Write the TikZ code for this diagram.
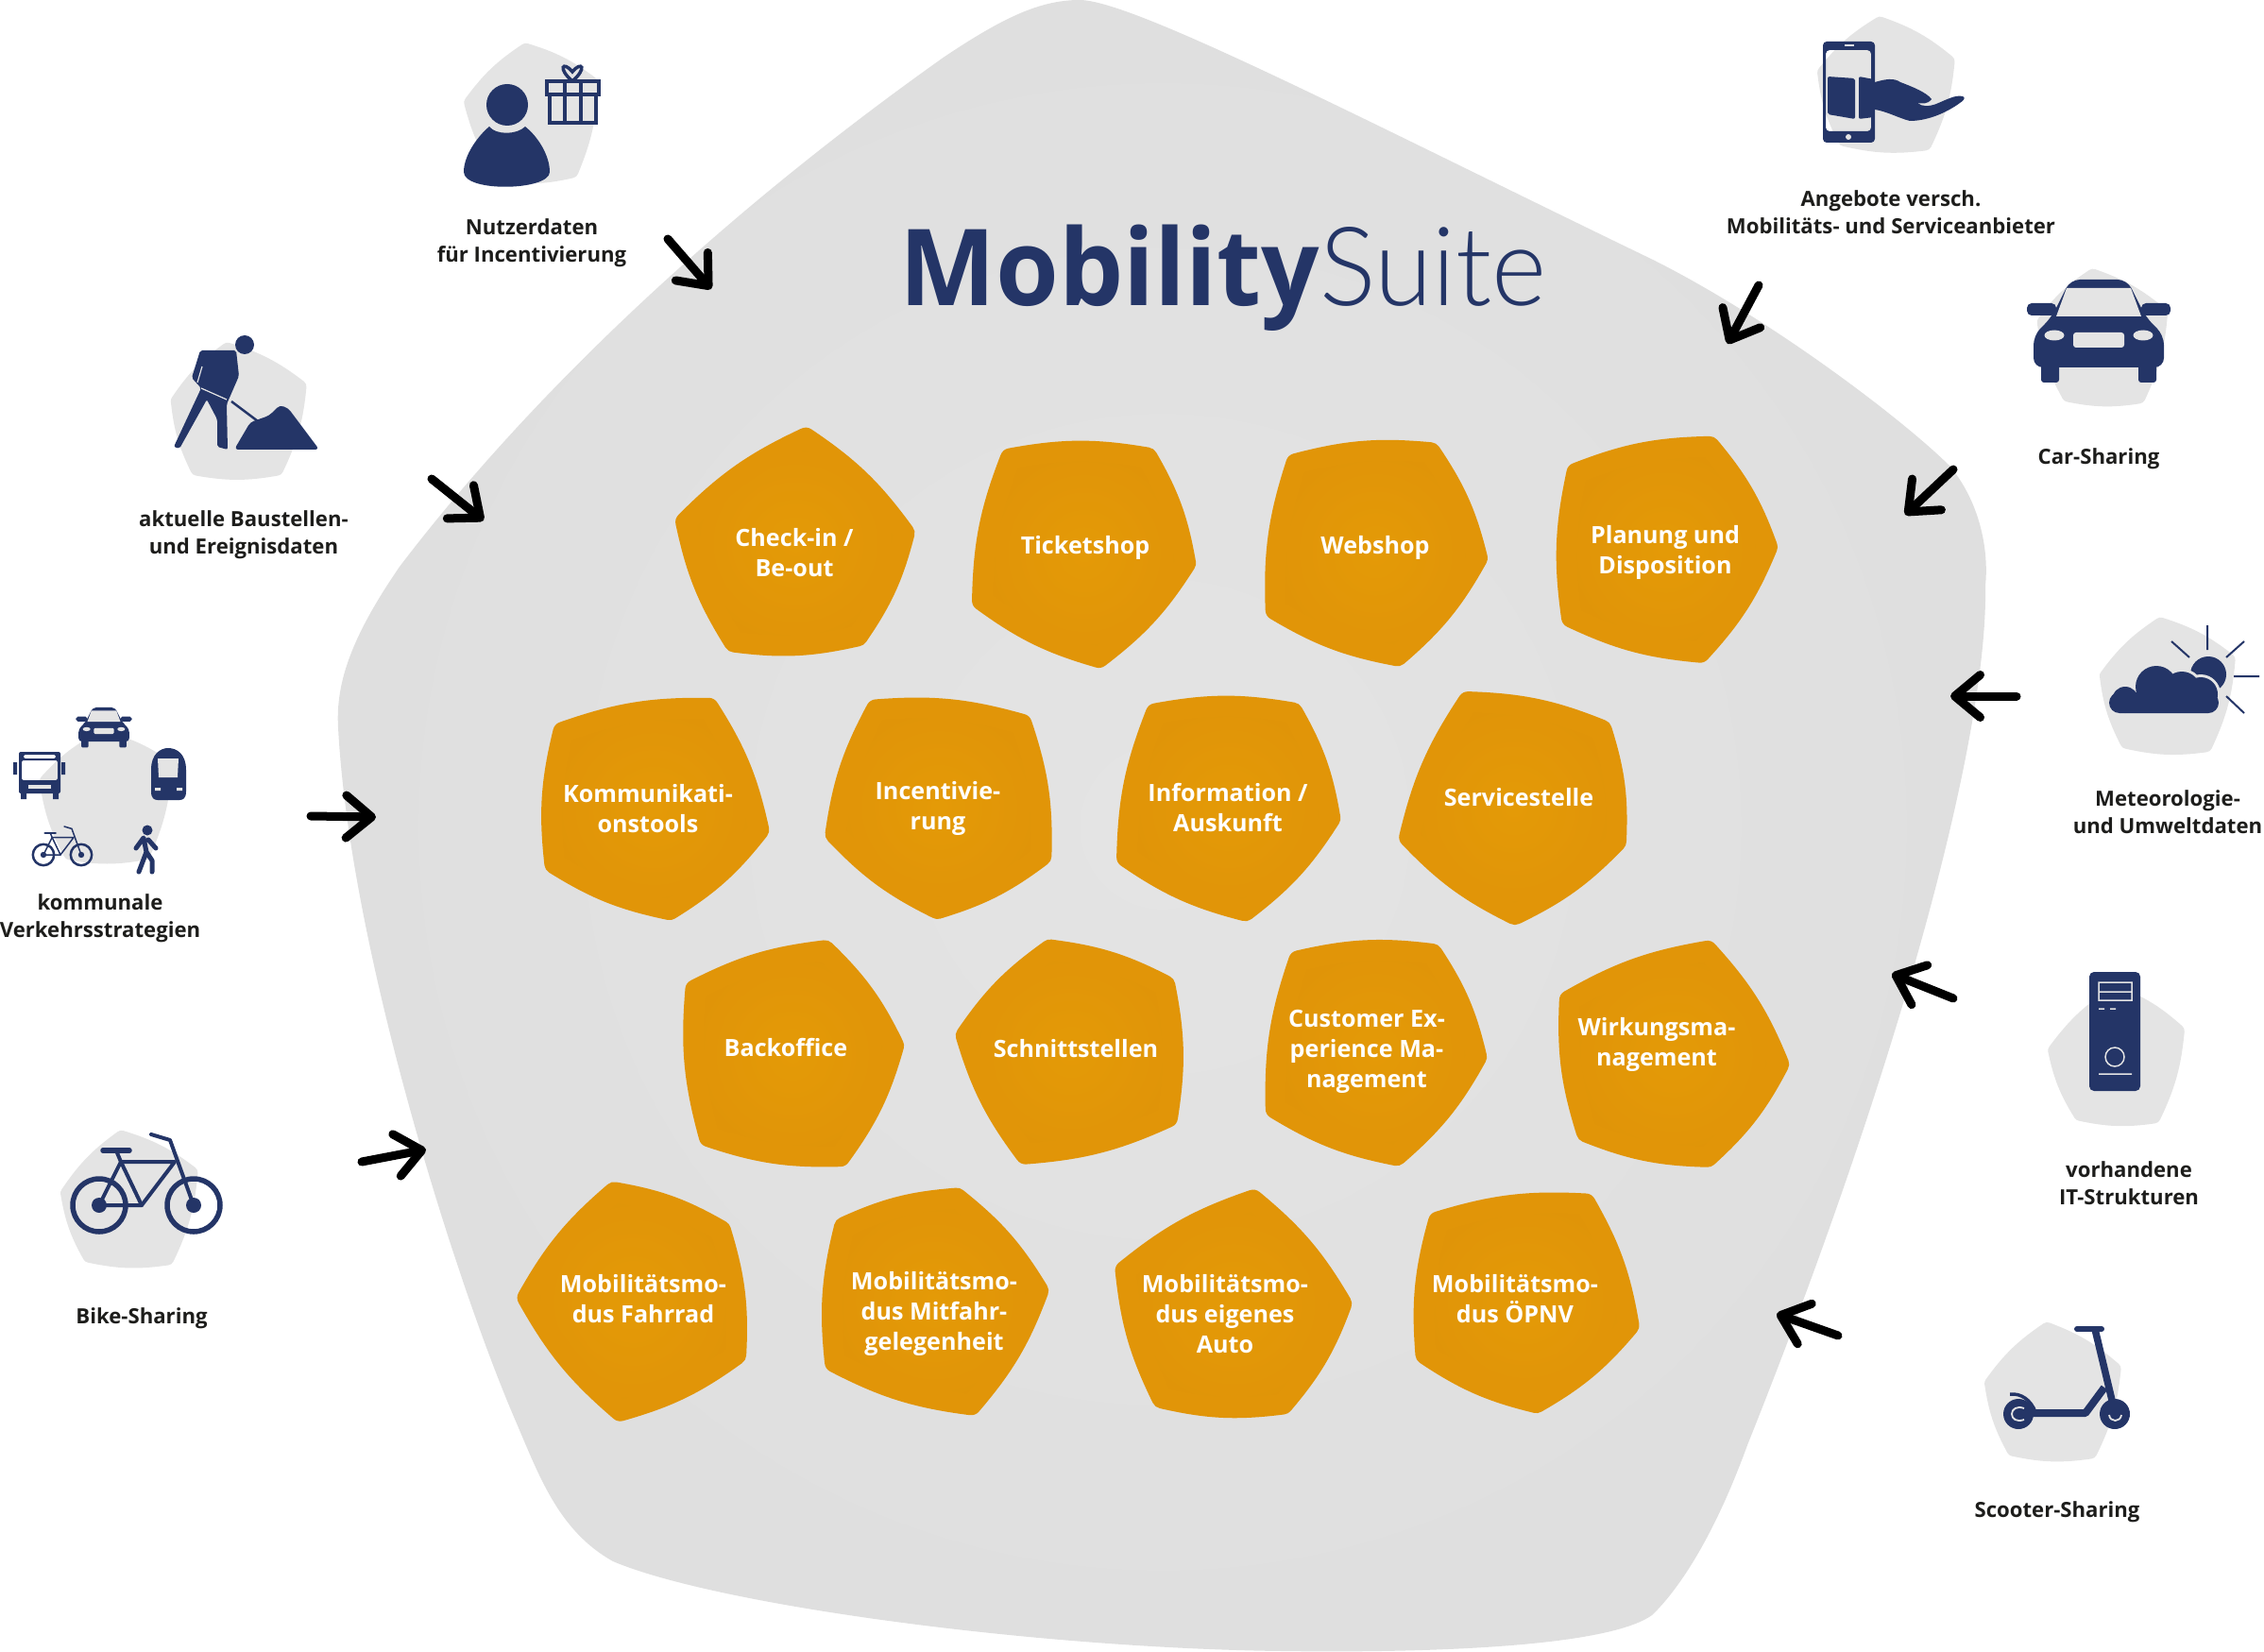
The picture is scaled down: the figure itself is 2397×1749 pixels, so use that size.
\documentclass[tikz,border=0pt]{standalone}
\usepackage{fontspec}
\setmainfont{Open Sans}
\newfontfamily\suitefont{Lato Light}
\usetikzlibrary{calc,arrows.meta}
\definecolor{navy}{HTML}{243567}
\definecolor{shapegrey}{HTML}{E4E4E4}
\definecolor{shapeedge}{HTML}{DFDFDF}
\definecolor{orangein}{HTML}{E49A07}
\definecolor{orangeout}{HTML}{E09408}
\definecolor{orangerim}{HTML}{E19508}
\definecolor{labelblack}{HTML}{1D1D1B}

% name, text position, text, five corners clockwise
\newcommand{\orangeblob}[8]{
	\coordinate (#1a) at #4;
	\coordinate (#1b) at #5;
	\coordinate (#1c) at #6;
	\coordinate (#1d) at #7;
	\coordinate (#1e) at #8;
	\coordinate (#1m) at (barycentric cs:#1a=1,#1b=1,#1c=1,#1d=1,#1e=1);
	\shadedraw[orangeshape] ($(#1m)!.9!(#1a)$) to[bend left=10] ($(#1m)!.9!(#1b)$) to[bend left=10] ($(#1m)!.9!(#1c)$) to[bend left=10] ($(#1m)!.9!(#1d)$) to[bend left=10] ($(#1m)!.9!(#1e)$) to[bend left=10] ($(#1m)!.9!(#1a)$) -- cycle;
	\node[blobtext] (#1) at #2 {\parbox{4cm}{\centering #3}};
}
\newcommand{\greyblob}[6]{
	\coordinate (#1a) at #2;
	\coordinate (#1b) at #3;
	\coordinate (#1c) at #4;
	\coordinate (#1d) at #5;
	\coordinate (#1e) at #6;
	\coordinate (#1m) at (barycentric cs:#1a=1,#1b=1,#1c=1,#1d=1,#1e=1);
	\draw[greyshape] ($(#1m)!.9!(#1a)$) to[bend left=10] ($(#1m)!.9!(#1b)$) to[bend left=10] ($(#1m)!.9!(#1c)$) to[bend left=10] ($(#1m)!.9!(#1d)$) to[bend left=10] ($(#1m)!.9!(#1e)$) to[bend left=10] ($(#1m)!.9!(#1a)$) -- cycle;
}
\newcommand{\caricon}[3]{
	\begin{scope}[shift={(#1,#2)},scale=#3]
		\fill[navy,rounded corners=#3*0.1cm] (-30,-54) -- (30,-54) -- (50,-14) -- (69,5) -- (69,39) -- (-69,39) -- (-69,5) -- (-50,-14) -- cycle;
		\fill[navy,rounded corners=#3*0.03cm] (-61,30) rectangle (-42,55);
		\fill[navy,rounded corners=#3*0.03cm] (42,30) rectangle (61,55);
		\fill[navy,rounded corners=#3*0.05cm] (-76,-29) rectangle (-45,-16);
		\fill[navy,rounded corners=#3*0.05cm] (45,-29) rectangle (76,-16);
		\fill[shapegrey] (-34,-45) -- (34,-45) -- (45,-15) -- (-45,-15) -- cycle;
		\fill[shapegrey] (-47,5) ellipse (10.5 and 5.5);
		\fill[shapegrey] (47,5) ellipse (10.5 and 5.5);
		\fill[shapegrey,rounded corners=#3*0.03cm] (-27,2) rectangle (27,18);
	\end{scope}
}
\newcommand{\bikeicon}[5]{
	\begin{scope}[shift={(#1,#2)},scale=#3,navy,line cap=round,line join=round]
		\draw[line width=#4] (-50,0) circle (28);
		\draw[line width=#4] (50,0) circle (28);
		\fill (-50,0) circle (8);
		\fill (50,0) circle (8);
		\draw[line width=#5] (-50,0) -- (-27,-46) -- (30,-46) -- (-5,0) -- cycle;
		\draw[line width=#5] (-27,-46) -- (-5,0);
		\draw[line width=#5] (-27,-46) -- (-32,-58);
		\draw[line width=#4] (-46,-58) -- (-18,-58);
		\draw[line width=#5] (50,0) -- (25,-69) -- (5,-75);
	\end{scope}
}

\begin{document}
\begin{tikzpicture}[x=0.01cm,y=-0.01cm]
\tikzstyle{orangeshape}=[inner color=orangein,outer color=orangeout,draw=orangerim,line width=0.22cm,line join=round]
\tikzstyle{greyshape}=[fill=shapegrey,draw=shapegrey,line width=0.14cm,line join=round]
\tikzstyle{blobtext}=[white,inner sep=0pt,font=\bfseries\fontsize{7.15}{9.1}\selectfont]
\tikzstyle{sidetext}=[labelblack,inner sep=0pt,font=\bfseries\fontsize{6.3}{8.2}\selectfont]
\tikzstyle{inarrow}=[line width=0.09cm,line cap=round,-{Straight Barb[length=0.27cm,width=0.45cm,round]}]
\useasboundingbox (0,0) rectangle (2397,1749);

\shade[inner color=shapegrey,outer color=shapeedge] (1143,0) .. controls (1200,0) and (1450,130) .. (1750,275) .. controls (1870,335) and (2010,440) .. (2064,493) .. controls (2095,530) and (2106,580) .. (2102,620) .. controls (2105,780) and (2010,1130) .. (1850,1530) .. controls (1810,1640) and (1770,1690) .. (1749,1710) .. controls (1700,1745) and (1500,1750) .. (1357,1748) .. controls (1100,1745) and (760,1700) .. (649,1653) .. controls (590,1620) and (570,1560) .. (544,1500) .. controls (480,1350) and (370,1000) .. (358,770) .. controls (355,720) and (375,670) .. (423,600) .. controls (560,420) and (760,230) .. (1000,60) .. controls (1060,20) and (1100,0) .. (1143,0) -- cycle;

\node[navy,inner sep=0pt,anchor=base west,xscale=0.96,transform shape] (title) at (952,324) {\fontsize{32}{36}\selectfont\bfseries Mobility\suitefont\mdseries\fontsize{33}{36}\selectfont Suite};

% inner modules
\orangeblob{checkin}{(841,585)}{Check-in /\\ Be-out}{(854,450)}{(970,562)}{(915,683)}{(770,690)}{(713,549)}
\orangeblob{ticketshop}{(1149,580)}{Ticketshop}{(1061,475)}{(1222,474)}{(1267,598)}{(1165,709)}{(1028,642)}
\orangeblob{webshop}{(1456,580)}{Webshop}{(1363,481)}{(1521,468)}{(1576,592)}{(1482,707)}{(1339,653)}
\orangeblob{planung}{(1763,585)}{Planung und\\ Disposition}{(1659,492)}{(1815,461)}{(1883,579)}{(1804,703)}{(1653,662)}
\orangeblob{kommunikation}{(686,856)}{Kommunikati-\\ onstools}{(586,766)}{(757,738)}{(816,881)}{(711,975)}{(576,921)}
\orangeblob{incentivierung}{(993,856)}{Incentivie-\\ rung}{(920,740)}{(1091,757)}{(1114,912)}{(992,974)}{(872,886)}
\orangeblob{information}{(1300,855)}{Information /\\ Auskunft}{(1215,745)}{(1376,744)}{(1420,868)}{(1320,977)}{(1181,914)}
\orangeblob{service}{(1608,844)}{Servicestelle}{(1548,731)}{(1705,764)}{(1722,895)}{(1603,981)}{(1479,890)}
\orangeblob{backoffice}{(832,1109)}{Backoffice}{(725,1040)}{(877,994)}{(958,1106)}{(895,1236)}{(741,1213)}
\orangeblob{schnittstellen}{(1139,1110)}{Schnittstellen}{(1109,994)}{(1244,1036)}{(1247,1191)}{(1080,1234)}{(1010,1095)}
\orangeblob{customer}{(1447,1113)}{Customer Ex-\\ perience Ma-\\ nagement}{(1366,1007)}{(1523,999)}{(1575,1120)}{(1481,1236)}{(1339,1181)}
\orangeblob{wirkung}{(1754,1106)}{Wirkungsma-\\ nagement}{(1650,1052)}{(1812,994)}{(1896,1127)}{(1812,1236)}{(1670,1207)}
\orangeblob{fahrrad}{(681,1375)}{Mobilitätsmo-\\ dus Fahrrad}{(647,1250)}{(772,1295)}{(790,1441)}{(654,1507)}{(545,1374)}
\orangeblob{mitfahr}{(989,1391)}{Mobilitätsmo-\\ dus Mitfahr-\\ gelegenheit}{(884,1291)}{(1016,1257)}{(1112,1366)}{(1033,1500)}{(873,1450)}
\orangeblob{auto}{(1297,1391)}{Mobilitätsmo-\\ dus eigenes\\ Auto}{(1329,1257)}{(1433,1379)}{(1364,1497)}{(1222,1490)}{(1179,1340)}
\orangeblob{oepnv}{(1604,1375)}{Mobilitätsmo-\\ dus ÖPNV}{(1513,1284)}{(1686,1263)}{(1737,1406)}{(1628,1497)}{(1498,1440)}

% outer sources
\greyblob{nutzerbg}{(556,45)}{(633,84)}{(610,188)}{(530,192)}{(491,107)}
\fill[navy] (537,111) circle (22);
\fill[navy] (518,134) .. controls (525,143) and (547,143) .. (556,134) .. controls (570,145) and (582,165) .. (582,182) .. controls (582,202) and (491,204) .. (491,182) .. controls (491,165) and (505,145) .. (518,134) -- cycle;
\draw[navy,line width=0.035cm] (582,100) rectangle (631,130) (579,86) rectangle (634,100) (598,86) -- (598,130) (615,86) -- (615,130);
\draw[navy,line width=0.035cm] (606,86) .. controls (590,72) and (596,64) .. (606,76) .. controls (616,64) and (622,72) .. (606,86);
\node[sidetext] (nutzer) at (563,257) {\parbox{4cm}{\centering Nutzerdaten\\ für Incentivierung}};

\greyblob{baubg}{(240,362)}{(325,406)}{(298,503)}{(204,503)}{(181,423)}
\fill[navy] (259,365) circle (10);
\fill[navy,rounded corners=0.02cm] (212,371) -- (250,371) -- (253,398) -- (240,428) -- (241,476) -- (230,473) -- (230,444) -- (219,423) -- (190,475) -- (184,473) -- (213,411) -- (203,400) -- cycle;
\draw[shapegrey,line width=0.012cm] (209,405) -- (214,388) (213,411) -- (240,423);
\draw[navy,line width=0.025cm] (245,425) -- (273,446);
\fill[navy,rounded corners=0.04cm] (248,476) -- (265,447) -- (285,440) -- (296,429) -- (305,432) -- (338,476) -- cycle;
\node[sidetext] (baustellen) at (258,566) {\parbox{4cm}{\centering aktuelle Baustellen-\\ und Ereignisdaten}};

\greyblob{angebotbg}{(1990,17)}{(2070,62)}{(2043,159)}{(1948,154)}{(1924,75)}
\fill[navy,even odd rule,rounded corners=0.04cm] (1930,44) rectangle (1985,151) (1933,53) rectangle (1981,139);
\fill[shapegrey] (1957,145) circle (3);
\fill[shapegrey] (1953,47.5) rectangle (1963,49);
\fill[navy,rounded corners=0.02cm] (1935,81) -- (1964,83) -- (1964,126) -- (1935,121) -- cycle;
\fill[navy,rounded corners=0.02cm] (1968,81) -- (1984,84) -- (1984,124) -- (1968,126) -- cycle;
\fill[navy] (1985,87) .. controls (1995,84) and (2005,82) .. (2012,87) .. controls (2025,92) and (2040,98) .. (2045,105) .. controls (2042,110) and (2035,110) .. (2030,109) .. controls (2035,113) and (2042,113) .. (2050,110) .. controls (2060,106) and (2070,100) .. (2078,102) .. controls (2082,104) and (2078,107) .. (2075,109) .. controls (2060,120) and (2040,128) .. (2022,128) .. controls (2010,125) and (1998,118) .. (1985,116) -- cycle;
\node[sidetext] (angebote) at (2002,225) {\parbox{6cm}{\centering Angebote versch.\\ Mobilitäts- und Serviceanbieter}};

\greyblob{carbg}{(2215,284)}{(2295,329)}{(2269,427)}{(2186,425)}{(2157,339)}
\caricon{2222}{350}{1}
\node[sidetext] (carsharing) at (2222,486) {Car-Sharing};

\greyblob{wetterbg}{(2287,653)}{(2367,695)}{(2340,796)}{(2247,792)}{(2223,714)}
\fill[navy] (2338,714) circle (19);
\draw[navy,line width=0.02cm] (2299,679) -- (2318,696) (2337,662) -- (2337,688) (2357,696) -- (2376,679) (2365,716) -- (2392,716) (2357,737) -- (2376,755);
\fill[shapegrey] (2310,731) circle (23) (2330,735) circle (21);
\fill[navy,rounded corners=0.11cm] (2233,733) rectangle (2349,755);
\fill[navy] (2283,727) circle (22) (2310,731) circle (20) (2330,735) circle (18) (2250,741) circle (14);
\node[sidetext] (wetter) at (2295,860) {\parbox{5cm}{\centering Meteorologie-\\ und Umweltdaten}};

\greyblob{itbg}{(2240,1043)}{(2313,1088)}{(2285,1189)}{(2198,1186)}{(2168,1111)}
\fill[navy,rounded corners=0.05cm] (2212,1029) rectangle (2266,1155);
\draw[shapegrey,line width=0.015cm] (2222,1040) rectangle (2257,1059) (2222,1050) -- (2257,1050) (2222,1068) -- (2228,1068) (2234,1068) -- (2240,1068) (2222,1137) -- (2257,1137) (2239,1119) circle (10);
\node[sidetext] (itstruktur) at (2254,1253) {\parbox{4cm}{\centering vorhandene\\ IT-Strukturen}};

\greyblob{scooterbg}{(2167,1399)}{(2246,1446)}{(2218,1544)}{(2127,1541)}{(2101,1463)}
\draw[navy,line width=0.06cm,line cap=round] (2199,1407) -- (2225,1407);
\draw[navy,line width=0.075cm] (2218,1407) -- (2239,1495);
\draw[navy,line width=0.08cm,line join=round] (2228,1469) -- (2208,1496) -- (2140,1496);
\fill[navy] (2137,1497) circle (16) (2239,1497) circle (16);
\draw[navy,line width=0.035cm] (2128,1476) .. controls (2140,1475) and (2150,1482) .. (2155,1495);
\draw[shapegrey,line width=0.018cm] (2143,1491) .. controls (2135,1488) and (2130,1492) .. (2130,1497) .. controls (2130,1502) and (2135,1506) .. (2143,1503) (2233,1498) .. controls (2234,1506) and (2245,1506) .. (2246,1498);
\node[sidetext] (scooter) at (2178,1601) {Scooter-Sharing};

\greyblob{kommunalbg}{(108,774)}{(182,807)}{(157,910)}{(70,910)}{(42,825)}
\caricon{110}{770}{0.39}
\fill[navy,even odd rule,rounded corners=0.02cm] (20,796) rectangle (64,840) (23,805) rectangle (61,826) (25,799) rectangle (59,803);
\fill[navy] (22,838) rectangle (28,846) (56,838) rectangle (62,846) (14,807) rectangle (18,820) (65,807) rectangle (69,820);
\fill[shapegrey] (30,831) rectangle (54,835);
\fill[navy] (160,838) -- (160,815) .. controls (160,798) and (170,792) .. (178,792) .. controls (187,792) and (197,798) .. (197,815) -- (197,838) .. controls (197,845) and (194,847) .. (190,847) -- (167,847) .. controls (163,847) and (160,845) .. (160,838) -- cycle;
\fill[shapegrey] (167,803) -- (189,803) -- (188,823) -- (168,823) -- cycle;
\fill[shapegrey] (164,834) rectangle (170,837) (187,834) rectangle (193,837);
\bikeicon{66}{905}{0.4}{0.025cm}{0.015cm}
\fill[navy] (156,879) circle (5.5);
\draw[navy,line width=0.05cm,line cap=round,line join=round] (144,898) -- (152,887) -- (155,902) -- (147,923) (157,889) -- (165,898) (155,902) -- (161,911) -- (161,923);
\node[sidetext] (kommunal) at (106,972) {\parbox{4cm}{\centering kommunale\\ Verkehrsstrategien}};

\greyblob{bikebg}{(128,1196)}{(210,1238)}{(182,1339)}{(90,1336)}{(64,1262)}
\bikeicon{155}{1276}{1}{0.055cm}{0.04cm}
\node[sidetext] (bikesharing) at (150,1396) {Bike-Sharing};

% arrows into the suite
\coordinate (nutzerstart) at (707,253);
\coordinate (nutzerend) at (753,306);
\coordinate (baustart) at (457,507);
\coordinate (bauend) at (512,551);
\coordinate (kommunalstart) at (329,864);
\coordinate (kommunalend) at (398,865);
\coordinate (bikestart) at (383,1230);
\coordinate (bikeend) at (451,1217);
\coordinate (angebotstart) at (1862,302);
\coordinate (angebotend) at (1829,364);
\coordinate (carstart) at (2068,497);
\coordinate (carend) at (2017,545);
\coordinate (wetterstart) at (2135,737);
\coordinate (wetterend) at (2065,737);
\coordinate (itstart) at (2068,1057);
\coordinate (itend) at (2003,1031);
\coordinate (scooterstart) at (1946,1414);
\coordinate (scooterend) at (1881,1391);
\foreach \quelle in {nutzer,bau,kommunal,bike,angebot,car,wetter,it,scooter}
	\draw[inarrow] (\quelle start) -- (\quelle end);

\end{tikzpicture}
\end{document}
